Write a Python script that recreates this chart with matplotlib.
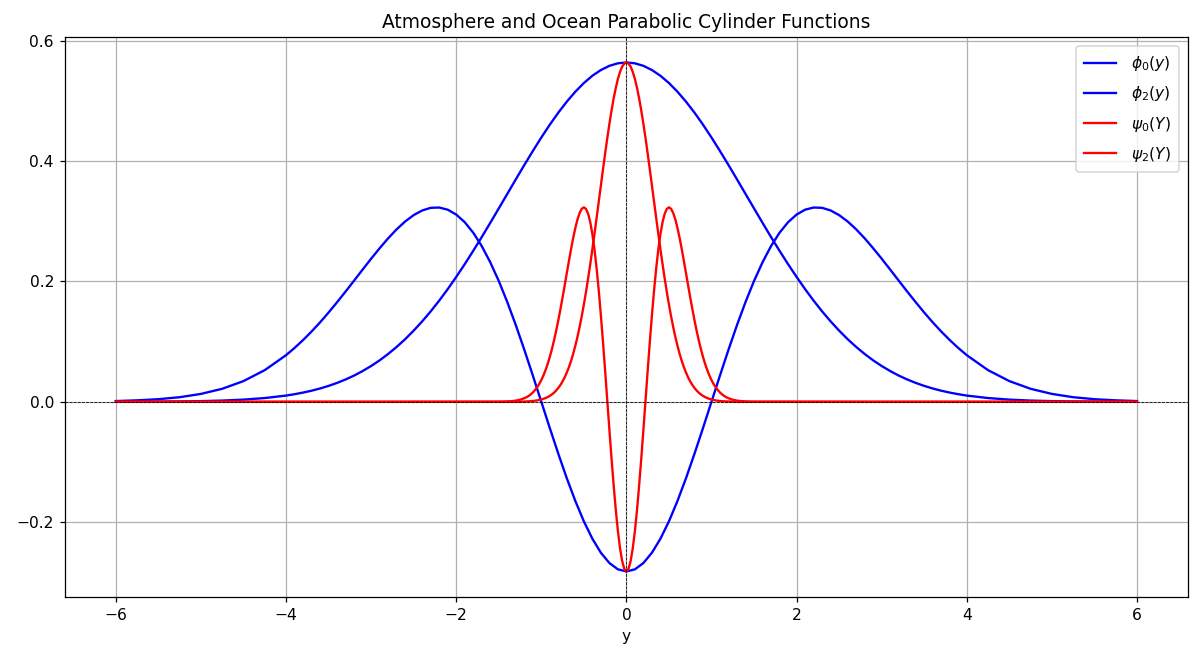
import matplotlib
matplotlib.use("Agg")
import matplotlib.pyplot as plt

# ---------------- Atmosphere curves ----------------
y_atm = [-6.0, -5.75, -5.5, -5.25, -5.0, -4.75, -4.5, -4.25,
         -4.0, -3.9, -3.8, -3.7, -3.6, -3.5, -3.4, -3.3, -3.2, -3.1,
         -3.0, -2.9, -2.8, -2.7, -2.6, -2.5, -2.4, -2.3, -2.2, -2.1,
         -2.0, -1.9, -1.8, -1.7, -1.6, -1.5, -1.4, -1.3, -1.2, -1.1,
         -1.0, -0.9, -0.8, -0.7, -0.6, -0.5, -0.4, -0.3, -0.2, -0.1,
         0.0,
         0.1, 0.2, 0.3, 0.4, 0.5, 0.6, 0.7, 0.8, 0.9, 1.0,
         1.1, 1.2, 1.3, 1.4, 1.5, 1.6, 1.7, 1.8, 1.9, 2.0,
         2.1, 2.2, 2.3, 2.4, 2.5, 2.6, 2.7, 2.8, 2.9, 3.0,
         3.1, 3.2, 3.3, 3.4, 3.5, 3.6, 3.7, 3.8, 3.9, 4.0,
         4.25, 4.5, 4.75, 5.0, 5.25, 5.5, 5.75, 6.0]
phi0 = [0.0001, 0.0001, 0.0003, 0.0006, 0.0011, 0.0020, 0.0036, 0.0062,
        0.0103, 0.0126, 0.0153, 0.0184, 0.0221, 0.0264, 0.0314, 0.0371, 0.0436, 0.0511,
        0.0595, 0.0689, 0.0795, 0.0912, 0.1041, 0.1183, 0.1337, 0.1503, 0.1682, 0.1873,
        0.2076, 0.2288, 0.2510, 0.2739, 0.2975, 0.3215, 0.3456, 0.3698, 0.3936, 0.4169,
        0.4394, 0.4608, 0.4808, 0.4991, 0.5156, 0.5300, 0.5421, 0.5516, 0.5586, 0.5628,
        0.5642,
        0.5628, 0.5586, 0.5516, 0.5421, 0.5300, 0.5156, 0.4991, 0.4808, 0.4608, 0.4394,
        0.4169, 0.3936, 0.3698, 0.3456, 0.3215, 0.2975, 0.2739, 0.2510, 0.2288, 0.2076,
        0.1873, 0.1682, 0.1503, 0.1337, 0.1183, 0.1041, 0.0912, 0.0795, 0.0689, 0.0595,
        0.0511, 0.0436, 0.0371, 0.0314, 0.0264, 0.0221, 0.0184, 0.0153, 0.0126, 0.0103,
        0.0062, 0.0036, 0.0020, 0.0011, 0.0006, 0.0003, 0.0001, 0.0001]
phi2 = [0.0012, 0.0024, 0.0043, 0.0076, 0.0131, 0.0216, 0.0344, 0.0526,
        0.0775, 0.0895, 0.1026, 0.1168, 0.1321, 0.1484, 0.1656, 0.1833, 0.2015, 0.2198,
        0.2379, 0.2553, 0.2718, 0.2868, 0.2998, 0.3104, 0.3181, 0.3225, 0.3230, 0.3194,
        0.3113, 0.2986, 0.2811, 0.2589, 0.2320, 0.2009, 0.1659, 0.1276, 0.0866, 0.0438,
        0.0, -0.0438, -0.0865, -0.1273, -0.1650, -0.1988, -0.2277, -0.2510, -0.2681, -0.2786,
        -0.2821,
        -0.2786, -0.2681, -0.2510, -0.2277, -0.1988, -0.1650, -0.1273, -0.0865, -0.0438, 0.0,
        0.0438, 0.0866, 0.1276, 0.1659, 0.2009, 0.2320, 0.2589, 0.2811, 0.2986, 0.3113,
        0.3194, 0.3230, 0.3225, 0.3181, 0.3104, 0.2998, 0.2868, 0.2718, 0.2553, 0.2379,
        0.2198, 0.2015, 0.1833, 0.1656, 0.1484, 0.1321, 0.1168, 0.1026, 0.0895, 0.0775,
        0.0526, 0.0344, 0.0216, 0.0131, 0.0076, 0.0043, 0.0024, 0.0012]

# ---------------- Ocean curves ----------------
y_oc = [-6.0, -3.0, -1.5, -1.45, -1.4, -1.35, -1.3, -1.25,
        -1.2, -1.175, -1.15, -1.125, -1.1, -1.075, -1.05, -1.025,
        -1.0, -0.975, -0.95, -0.925, -0.9, -0.875, -0.85, -0.825,
        -0.8, -0.775, -0.75, -0.725, -0.7, -0.675, -0.65, -0.625,
        -0.6, -0.575, -0.55, -0.525, -0.5, -0.475, -0.45, -0.425,
        -0.4, -0.375, -0.35, -0.325, -0.3, -0.275, -0.25, -0.225,
        -0.2, -0.175, -0.15, -0.125, -0.1, -0.075, -0.05, -0.025,
        0.0,
        0.025, 0.05, 0.075, 0.1, 0.125, 0.15, 0.175, 0.2,
        0.225, 0.25, 0.275, 0.3, 0.325, 0.35, 0.375, 0.4,
        0.425, 0.45, 0.475, 0.5, 0.525, 0.55, 0.575, 0.6,
        0.625, 0.65, 0.675, 0.7, 0.725, 0.75, 0.775, 0.8,
        0.825, 0.85, 0.875, 0.9, 0.925, 0.95, 0.975, 1.0,
        1.025, 1.05, 1.075, 1.1, 1.125, 1.15, 1.175, 1.2,
        1.25, 1.3, 1.35, 1.4, 1.45, 1.5, 3.0, 6.0]
psi0 = [0.0, 0.0, 0.0, 0.0, 0.0, 0.0001, 0.0001, 0.0002,
        0.0004, 0.0006, 0.0008, 0.0010, 0.0013, 0.0017, 0.0023, 0.0030,
        0.0038, 0.0049, 0.0062, 0.0078, 0.0098, 0.0123, 0.0152, 0.0188,
        0.0230, 0.0280, 0.0339, 0.0407, 0.0487, 0.0578, 0.0682, 0.0800,
        0.0933, 0.1080, 0.1243, 0.1422, 0.1616, 0.1826, 0.2050, 0.2287,
        0.2535, 0.2793, 0.3058, 0.3327, 0.3597, 0.3866, 0.4128, 0.4380,
        0.4619, 0.4841, 0.5042, 0.5218, 0.5367, 0.5485, 0.5572, 0.5624,
        0.5642,
        0.5624, 0.5572, 0.5485, 0.5367, 0.5218, 0.5042, 0.4841, 0.4619,
        0.4380, 0.4128, 0.3866, 0.3597, 0.3327, 0.3058, 0.2793, 0.2535,
        0.2287, 0.2050, 0.1826, 0.1616, 0.1422, 0.1243, 0.1080, 0.0933,
        0.0800, 0.0682, 0.0578, 0.0487, 0.0407, 0.0339, 0.0280, 0.0230,
        0.0188, 0.0152, 0.0123, 0.0098, 0.0078, 0.0062, 0.0049, 0.0038,
        0.0030, 0.0023, 0.0017, 0.0013, 0.0010, 0.0008, 0.0006, 0.0004,
        0.0002, 0.0001, 0.0001, 0.0, 0.0, 0.0, 0.0, 0.0]
psi2 = [0.0, 0.0, 0.0002, 0.0003, 0.0006, 0.0011, 0.0019, 0.0034,
        0.0059, 0.0075, 0.0096, 0.0122, 0.0154, 0.0193, 0.0240, 0.0295,
        0.0361, 0.0438, 0.0528, 0.0630, 0.0747, 0.0878, 0.1024, 0.1184,
        0.1357, 0.1542, 0.1736, 0.1938, 0.2142, 0.2345, 0.2542, 0.2726,
        0.2891, 0.3031, 0.3139, 0.3209, 0.3233, 0.3207, 0.3126, 0.2987,
        0.2789, 0.2531, 0.2217, 0.1851, 0.1439, 0.0991, 0.0516, 0.0027,
        -0.0462, -0.0938, -0.1386, -0.1794, -0.2147, -0.2434, -0.2647, -0.2777,
        -0.2821,
        -0.2777, -0.2647, -0.2434, -0.2147, -0.1794, -0.1386, -0.0938, -0.0462,
        0.0027, 0.0516, 0.0991, 0.1439, 0.1851, 0.2217, 0.2531, 0.2789,
        0.2987, 0.3126, 0.3207, 0.3233, 0.3209, 0.3139, 0.3031, 0.2891,
        0.2726, 0.2542, 0.2345, 0.2142, 0.1938, 0.1736, 0.1542, 0.1357,
        0.1184, 0.1024, 0.0878, 0.0747, 0.0630, 0.0528, 0.0438, 0.0361,
        0.0295, 0.0240, 0.0193, 0.0154, 0.0122, 0.0096, 0.0075, 0.0059,
        0.0034, 0.0019, 0.0011, 0.0006, 0.0003, 0.0002, 0.0, 0.0]

labels = [r'$\phi_0(y)$', r'$\phi_2(y)$', r'$\psi_0(Y)$', r'$\psi_2(Y)$']

DPI = 112
fig, ax = plt.subplots(figsize=(1200 / DPI, 661 / DPI), dpi=DPI)
fig.subplots_adjust(left=0.054, right=0.99, top=0.944, bottom=0.097)

ax.plot(y_atm, phi0, color='blue', lw=1.5, label=labels[0])
ax.plot(y_atm, phi2, color='blue', lw=1.5, label=labels[1])
ax.plot(y_oc, psi0, color='red', lw=1.5, label=labels[2])
ax.plot(y_oc, psi2, color='red', lw=1.5, label=labels[3])

ax.axhline(0, color='black', lw=0.5, ls='--')
ax.axvline(0, color='black', lw=0.5, ls='--')

ax.set_title('Atmosphere and Ocean Parabolic Cylinder Functions')
ax.set_xlabel('y')
ax.grid(True)
ax.legend(loc='upper right', labelspacing=0.72, handletextpad=1.0,
          borderpad=0.55, borderaxespad=0.55)

fig.savefig('out.png', dpi=DPI)
